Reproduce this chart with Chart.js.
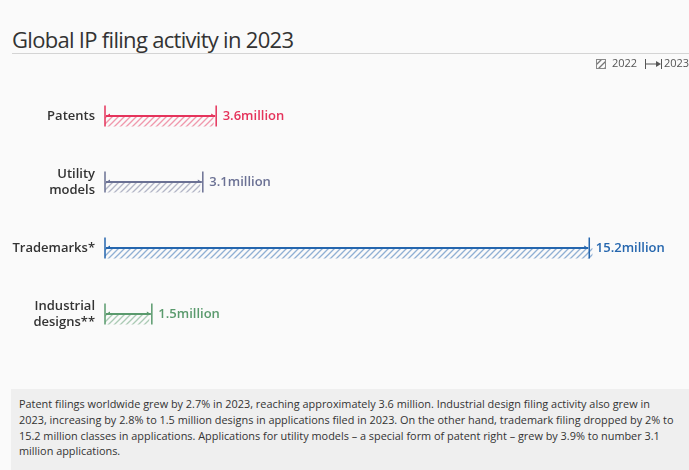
<!DOCTYPE html>
<html>
<head>
<meta charset="utf-8">
<script src="https://cdn.jsdelivr.net/npm/chart.js@4"></script>
<style>
  body { margin: 0; background: #fafafa; width: 689px; height: 470px; overflow: hidden; position: relative; font-family: "Open Sans", "Noto Sans", sans-serif; }
  #title { position: absolute; left: 12px; top: 24px; font-size: 22px; color: #333; letter-spacing: -0.7px; white-space: nowrap; }
  #rule { position: absolute; left: 12px; right: 0; top: 53px; height: 1px; background: #d4d4d4; }
  #chartBox { position: absolute; left: 0; top: 55px; }
  #note { position: absolute; left: 11px; top: 389px; right: 0; bottom: 0; background: #efefef; color: #333; font-size: 10.9px; line-height: 15.8px; padding: 7px 14px 0 8px; }
</style>
</head>
<body>
<div id="title">Global IP filing activity in 2023</div>
<div id="rule"></div>
<div id="chartBox"><canvas id="ipChart" width="689" height="330"></canvas></div>
<div id="note">Patent filings worldwide grew by 2.7% in 2023, reaching approximately 3.6 million. Industrial design filing activity also grew in 2023, increasing by 2.8% to 1.5 million designs in applications filed in 2023. On the other hand, trademark filing dropped by 2% to 15.2 million classes in applications. Applications for utility models – a special form of patent right – grew by 3.9% to number 3.1 million applications.</div>
<script>
var categories = [["Patents"], ["Utility", "models"], ["Trademarks*"], ["Industrial", "designs**"]];
var values2023 = [3.49, 3.07, 15.2, 1.47];
var values2022 = [3.41, 2.99, 15.3, 1.39];
var valueLabels = ["3.6million", "3.1million", "15.2million", "1.5million"];
var seriesNames = ["2022", "2023"];
var colors = ["#e5335b", "#6b7194", "#2566ae", "#5a9a6d"];
var hatchColors = ["rgba(229,51,91,0.5)", "rgba(107,113,148,0.5)", "rgba(37,102,174,0.5)", "rgba(90,154,109,0.5)"];

function makeHatch(color) {
  var c = document.createElement("canvas");
  c.width = 6; c.height = 6;
  var g = c.getContext("2d");
  g.strokeStyle = color;
  g.lineWidth = 1.3;
  g.beginPath();
  g.moveTo(0, 6); g.lineTo(6, 0);
  g.moveTo(-3, 3); g.lineTo(3, -3);
  g.moveTo(3, 9); g.lineTo(9, 3);
  g.stroke();
  return g.createPattern(c, "repeat");
}

var ctx = document.getElementById("ipChart").getContext("2d");
var hatches = hatchColors.map(makeHatch);

var markerPlugin = {
  id: "markers",
  afterDatasetsDraw: function(chart) {
    var c = chart.ctx;
    var m23 = chart.getDatasetMeta(0).data;
    var m22 = chart.getDatasetMeta(1).data;
    m23.forEach(function(el, i) {
      var el2 = m22[i];
      var top = el.y - el.height / 2;
      var mid = el.y + el.height / 2;
      var bottom = el2.y + el2.height / 2;
      var x0 = el.base, x1 = el.x;
      c.save();
      c.strokeStyle = colors[i];
      c.fillStyle = colors[i];
      c.lineWidth = 1.5;
      c.beginPath();
      c.moveTo(x0, top); c.lineTo(x0, bottom);
      c.moveTo(x1, top); c.lineTo(x1, bottom);
      c.stroke();
      c.lineWidth = 2;
      c.beginPath();
      c.moveTo(x0 + 1, mid); c.lineTo(x1 - 1, mid);
      c.stroke();
      // small arrow heads
      c.beginPath();
      c.moveTo(x0 + 1, mid); c.lineTo(x0 + 5, mid - 2.5); c.lineTo(x0 + 5, mid + 1); c.closePath();
      c.moveTo(x1 - 1, mid); c.lineTo(x1 - 5, mid - 2.5); c.lineTo(x1 - 5, mid + 1); c.closePath();
      c.fill();
      // value label
      c.font = "600 13px 'Open Sans', 'Noto Sans', sans-serif";
      c.textBaseline = "middle";
      c.textAlign = "left";
      c.fillText(valueLabels[i], x1 + 6.5, mid);
      c.restore();
    });

    // legend
    c.save();
    var ly = 9;
    c.font = "11px 'Open Sans', 'Noto Sans', sans-serif";
    c.textBaseline = "middle";
    c.fillStyle = "#555";
    c.fillText(seriesNames[0], 612, ly);
    c.fillText(seriesNames[1], 664, ly);
    c.fillStyle = makeHatch("#777");
    c.fillRect(596, ly - 5, 10, 10);
    c.strokeStyle = "#888";
    c.lineWidth = 1;
    c.strokeRect(596.5, ly - 4.5, 9, 9);
    c.strokeStyle = "#555";
    c.fillStyle = "#555";
    c.beginPath();
    c.moveTo(645.5, ly - 5); c.lineTo(645.5, ly + 5);
    c.moveTo(661.5, ly - 5); c.lineTo(661.5, ly + 5);
    c.moveTo(646, ly); c.lineTo(657, ly);
    c.stroke();
    c.beginPath();
    c.moveTo(661, ly); c.lineTo(656, ly - 3); c.lineTo(656, ly + 3); c.closePath();
    c.fill();
    c.restore();
  }
};

var ipChart = new Chart(ctx, {
  type: "bar",
  data: {
    labels: categories,
    datasets: [{
      label: seriesNames[1],
      data: values2023,
      backgroundColor: "rgba(0,0,0,0)",
      borderWidth: 0
    }, {
      label: seriesNames[0],
      data: values2022,
      backgroundColor: hatches,
      borderWidth: 0
    }]
  },
  options: {
    indexAxis: "y",
    responsive: false,
    animation: false,
    devicePixelRatio: 1,
    categoryPercentage: 0.32,
    barPercentage: 1,
    layout: { padding: { top: 28, bottom: 38, left: 0, right: 29 } },
    plugins: { legend: { display: false }, tooltip: { enabled: false } },
    scales: {
      x: { display: false, min: 0, max: 17.42 },
      y: {
        afterFit: function(scale) { scale.width = 105; },
        grid: { display: false },
        border: { display: false },
        ticks: {
          padding: 2,
          color: "#333",
          font: { family: "'Open Sans', 'Noto Sans', sans-serif", size: 13, weight: "600", lineHeight: 1.25 }
        }
      }
    }
  },
  plugins: [markerPlugin]
});
</script>
</body>
</html>
